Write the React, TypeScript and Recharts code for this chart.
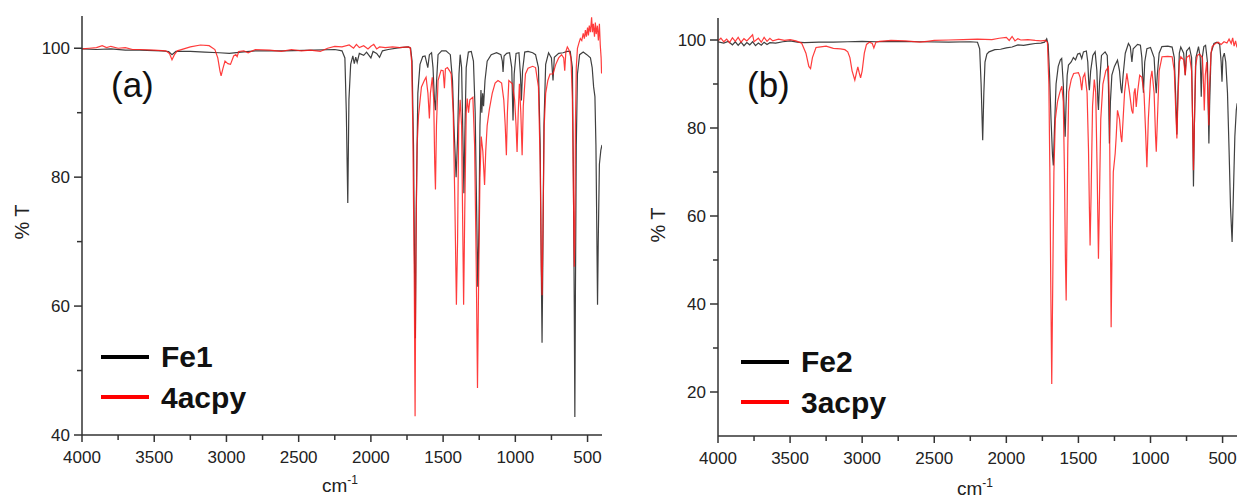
import React from 'react';
import { LineChart, Line, XAxis, YAxis, Customized } from 'recharts';

// Panel (a): Fe1 (black) and 4acpy (red) — [wavenumber cm-1, %T]
const fe1: [number, number][] = [
  [4000, 99.9], [3900, 99.8], [3800, 99.9], [3700, 99.7], [3600, 99.7], [3450, 99.6], [3400, 99.5], [3377, 99.0], [3350, 99.5],
  [3250, 99.5], [3150, 99.4], [3050, 99.3], [2980, 99.2], [2900, 99.4], [2800, 99.6], [2600, 99.6], [2400, 99.7], [2250, 99.8],
  [2200, 99.6], [2180, 98.5], [2170, 90], [2160, 76.0], [2152, 92], [2140, 97.5], [2125, 98.8], [2115, 97.6], [2105, 98.6],
  [2095, 97.8], [2080, 99.2], [2050, 98.9], [2030, 99.4], [2000, 98.5], [1985, 99.5], [1960, 99.2], [1940, 98.6], [1920, 99.6],
  [1880, 99.8], [1800, 100.1], [1740, 100.2], [1725, 100.0], [1715, 98], [1705, 85], [1697, 65], [1692, 55], [1686, 75],
  [1675, 93], [1660, 97.5], [1641, 98.7], [1625, 98.8], [1606, 97.0], [1595, 99.0], [1580, 99.3], [1570, 97], [1560, 92],
  [1553, 90.4], [1545, 95], [1535, 99.0], [1510, 99.6], [1480, 99.6], [1450, 99.0], [1435, 95], [1425, 88], [1410, 80],
  [1400, 86], [1390, 96], [1382, 99.0], [1372, 97], [1362, 85], [1356, 77.5], [1350, 86], [1340, 97], [1325, 99.4],
  [1305, 99.5], [1290, 98], [1278, 90], [1268, 75], [1260, 63], [1252, 72], [1245, 88], [1238, 93.5], [1232, 90],
  [1226, 93], [1220, 91], [1210, 95], [1195, 98], [1167, 99.0], [1130, 99.3], [1100, 99.0], [1090, 98], [1085, 96.3],
  [1078, 98.8], [1060, 99.2], [1040, 99.3], [1025, 97], [1016, 88.8], [1008, 96], [995, 99.2], [975, 99.3], [965, 96],
  [958, 91.9], [950, 96.5], [935, 99.4], [912, 99.5], [880, 99.3], [860, 99.0], [840, 97], [828, 85], [820, 65],
  [815, 54.3], [810, 66], [802, 88], [790, 97.5], [770, 99.3], [750, 98.5], [739, 95], [730, 98.6], [700, 99.2],
  [670, 99.3], [640, 99.5], [620, 99.5], [605, 97], [598, 80], [592, 60], [588, 42.8], [584, 62], [578, 85], [570, 96],
  [555, 99.0], [530, 99.4], [505, 99.0], [480, 98.5], [468, 97], [458, 94], [449, 92.5], [442, 85], [436, 72],
  [431, 60.2], [426, 70], [418, 82], [408, 84.2], [400, 85],
];

const acpy4: [number, number][] = [
  [4000, 99.9], [3950, 100.0], [3900, 100.1], [3860, 100.4], [3830, 100.1], [3800, 100.3], [3750, 100.0], [3700, 100.1],
  [3650, 99.8], [3600, 99.8], [3500, 99.7], [3420, 99.6], [3395, 99.2], [3377, 98.2], [3360, 99.0], [3340, 99.6],
  [3250, 100.2], [3180, 100.5], [3120, 100.4], [3080, 99.8], [3060, 98.5], [3045, 96.5], [3037, 95.7], [3025, 96.8],
  [3010, 98.0], [2990, 97.6], [2972, 97.5], [2950, 98.8], [2935, 99.0], [2926, 98.7], [2915, 99.5], [2880, 99.6],
  [2850, 99.3], [2800, 99.8], [2700, 99.7], [2620, 99.5], [2550, 99.8], [2480, 99.6], [2420, 99.7], [2350, 99.5],
  [2300, 100.0], [2250, 100.3], [2200, 100.2], [2150, 100.5], [2120, 100.0], [2100, 100.6], [2080, 100.1], [2050, 100.4],
  [2020, 99.9], [2000, 100.3], [1980, 100.6], [1960, 99.9], [1940, 100.2], [1900, 100.1], [1850, 100.2], [1800, 100.1],
  [1750, 100.2], [1728, 100.1], [1718, 98], [1710, 88], [1700, 65], [1694, 42.9], [1688, 70], [1680, 85], [1670, 89.6],
  [1650, 94], [1630, 95.0], [1618, 95.5], [1605, 93], [1595, 89.1], [1588, 93], [1575, 95.5], [1565, 92], [1558, 82],
  [1553, 78.1], [1546, 88], [1535, 95], [1514, 96.6], [1500, 96.5], [1491, 93.8], [1484, 96.8], [1470, 97.0], [1455, 96.5],
  [1444, 96.0], [1430, 90], [1418, 75], [1408, 60.2], [1400, 70], [1392, 88], [1382, 92], [1372, 88], [1364, 72],
  [1358, 60.2], [1350, 75], [1340, 90], [1333, 92.2], [1324, 90], [1315, 92], [1294, 92.4], [1282, 85], [1270, 65],
  [1262, 47.3], [1255, 62], [1245, 80], [1236, 86.3], [1225, 84], [1213, 78.8], [1205, 84], [1195, 88], [1180, 90.5],
  [1160, 93], [1140, 94.6], [1120, 95.0], [1095, 94.6], [1080, 92], [1070, 88], [1062, 83.4], [1055, 90], [1045, 95.0],
  [1020, 94.5], [1005, 92], [995, 88], [988, 83.9], [980, 90], [972, 94.5], [962, 90], [953, 83.4], [945, 91], [930, 96],
  [912, 96.9], [880, 97.2], [860, 97], [840, 94], [828, 82], [820, 66], [815, 61.7], [810, 70], [800, 88], [790, 93],
  [775, 95], [760, 96], [739, 96], [720, 97.5], [700, 98.5], [680, 99], [665, 98.5], [658, 96.5], [650, 99.5],
  [640, 100.2], [630, 99.8], [615, 98.5], [605, 92], [598, 78], [592, 66.1], [588, 70], [584, 88], [578, 97], [570, 100],
  [560, 100.8], [550, 101.5], [540, 101.2], [530, 102.3], [522, 101.5], [515, 102.8], [508, 101.8], [500, 103.2],
  [494, 102], [488, 103.5], [480, 102.5], [472, 104.8], [466, 102.5], [460, 103.8], [452, 101.8], [446, 104], [440, 102.2],
  [432, 103.5], [425, 101.2], [418, 103.8], [412, 100.5], [406, 98.5], [403, 96.1], [400, 97],
];

// Panel (b): Fe2 (black) and 3acpy (red)
const fe2: [number, number][] = [
  [4000, 99.6], [3960, 99.3], [3930, 99.7], [3900, 98.9], [3880, 99.6], [3860, 98.8], [3840, 99.5], [3820, 98.7],
  [3800, 99.4], [3780, 98.9], [3760, 99.6], [3740, 98.7], [3720, 99.3], [3700, 98.8], [3680, 99.5], [3660, 99.0],
  [3640, 99.4], [3600, 99.3], [3550, 99.6], [3500, 99.8], [3450, 99.5], [3400, 99.4], [3300, 99.5], [3200, 99.5],
  [3100, 99.6], [3000, 99.7], [2900, 99.6], [2800, 99.7], [2600, 99.6], [2400, 99.5], [2250, 99.6], [2200, 99.5],
  [2185, 98], [2175, 90], [2164, 77.2], [2156, 88], [2148, 95], [2135, 96.8], [2120, 97.3], [2080, 97.8], [2040, 97.9],
  [2000, 98.2], [1960, 98.4], [1920, 98.9], [1880, 98.8], [1840, 99.0], [1800, 99.2], [1760, 99.3], [1735, 99.5],
  [1720, 100.3], [1710, 99], [1700, 92], [1690, 82], [1680, 74], [1674, 71.5], [1666, 80], [1655, 90], [1640, 94],
  [1625, 95.5], [1616, 95.8], [1605, 90], [1597, 82], [1592, 78], [1586, 85], [1578, 92], [1569, 94.3], [1550, 95],
  [1535, 96], [1520, 95.5], [1505, 96.8], [1490, 97], [1477, 95.8], [1465, 97.3], [1445, 97.5], [1435, 95], [1428, 90],
  [1424, 88.6], [1415, 93], [1400, 96.5], [1384, 97.3], [1372, 93], [1365, 86], [1361, 84.1], [1354, 90], [1340, 96.5],
  [1315, 97.3], [1300, 96.5], [1292, 90], [1285, 76.5], [1278, 86], [1268, 92], [1250, 94], [1229, 95.4], [1215, 93],
  [1205, 89], [1199, 87.9], [1190, 92], [1175, 97], [1153, 99.2], [1140, 98.5], [1129, 95], [1120, 98], [1105, 98.5],
  [1090, 99], [1070, 98.8], [1060, 96], [1049, 88], [1040, 95], [1025, 98], [1000, 98.3], [975, 96], [965, 90],
  [960, 87.9], [953, 92], [940, 97], [921, 98.5], [880, 98.6], [850, 98.4], [835, 96], [824, 86], [817, 78.5], [810, 88],
  [800, 97], [790, 98.4], [770, 97], [759, 92], [750, 97.5], [730, 98.3], [715, 96], [707, 80], [702, 66.7], [696, 80],
  [685, 96], [667, 98.5], [655, 96], [648, 87.1], [641, 96], [630, 98.5], [618, 98.8], [605, 95], [598, 82], [595, 76.5],
  [590, 85], [580, 97], [560, 99.2], [539, 99.5], [520, 99.0], [510, 95], [504, 90.5], [498, 96], [488, 97], [478, 95],
  [466, 88], [455, 75], [445, 62], [434, 54.1], [425, 65], [415, 78], [405, 84], [399, 85.6],
];

const acpy3: [number, number][] = [
  [4000, 99.8], [3980, 100.4], [3960, 99.6], [3940, 100.2], [3920, 99.4], [3900, 100.5], [3880, 99.7], [3860, 100.6],
  [3840, 99.5], [3820, 100.3], [3800, 99.8], [3760, 101.2], [3750, 99.6], [3720, 100.4], [3700, 99.5], [3680, 100.6],
  [3660, 99.7], [3640, 100.4], [3620, 99.8], [3580, 100.2], [3540, 99.9], [3500, 100.1], [3460, 99.8], [3420, 99.3],
  [3390, 97], [3370, 94], [3358, 93.5], [3345, 96], [3320, 98.3], [3300, 98.4], [3250, 98.6], [3200, 98.1], [3150, 98.0],
  [3120, 97.8], [3100, 97.3], [3085, 96], [3070, 93], [3051, 90.9], [3040, 92.5], [3030, 93.9], [3020, 92.5],
  [3011, 91.4], [3000, 93], [2985, 97], [2970, 99], [2950, 99.5], [2930, 99.2], [2919, 98.2], [2905, 99.5], [2880, 99.7],
  [2800, 99.9], [2700, 99.8], [2600, 99.5], [2550, 99.7], [2500, 99.9], [2400, 100.0], [2300, 100.1], [2200, 100.2],
  [2100, 100.1], [2050, 100.4], [2000, 100.6], [1980, 99.9], [1960, 100.8], [1940, 99.8], [1920, 100.3], [1900, 100.0],
  [1850, 100.1], [1800, 99.9], [1760, 99.8], [1730, 99.9], [1715, 99.5], [1705, 90], [1698, 70], [1692, 45],
  [1685, 21.8], [1678, 45], [1670, 70], [1660, 82], [1645, 86], [1630, 88], [1615, 89.5], [1605, 86], [1597, 70],
  [1590, 50], [1585, 40.8], [1580, 55], [1574, 75], [1567, 88.2], [1550, 91], [1533, 92.4], [1500, 92.6], [1488, 91.5],
  [1477, 88.6], [1468, 91.5], [1456, 92.4], [1440, 88], [1430, 75], [1424, 62], [1419, 53.3], [1412, 65], [1402, 85],
  [1390, 91], [1380, 88], [1370, 70], [1361, 50.3], [1355, 62], [1345, 82], [1330, 90], [1310, 93], [1292, 93.9],
  [1285, 85], [1280, 65], [1273, 34.7], [1266, 55], [1258, 70], [1245, 74.2], [1238, 78], [1229, 84], [1215, 82],
  [1205, 78], [1199, 76.8], [1190, 82], [1180, 88], [1164, 92.4], [1145, 88], [1130, 84], [1122, 83.3], [1114, 88],
  [1107, 89], [1099, 84.8], [1090, 88], [1075, 92], [1060, 91.5], [1045, 88], [1035, 80], [1025, 71.1], [1015, 82],
  [1000, 91], [990, 93], [975, 88], [965, 78], [960, 74.6], [952, 82], [940, 93], [920, 96.2], [880, 96.3], [850, 96.2],
  [835, 93], [825, 84], [817, 77.6], [810, 86], [800, 95], [790, 96.2], [770, 95.5], [759, 92], [750, 96], [730, 96.5],
  [715, 93], [708, 82], [702, 70.4], [696, 80], [688, 94], [675, 96.5], [660, 96.8], [640, 96], [632, 90], [627, 84],
  [620, 92], [610, 95], [600, 86], [595, 80.6], [590, 90], [580, 97], [572, 98.5], [550, 99.2], [530, 99.5], [510, 99.0],
  [490, 99.6], [470, 99.3], [455, 100.2], [440, 99.2], [430, 100.5], [420, 98.6], [410, 99.8], [400, 98.3],
];

const xTicks = [500, 750, 1000, 1250, 1500, 1750, 2000, 2250, 2500, 2750, 3000, 3250, 3500, 3750, 4000];
const yTicksA = [40, 50, 60, 70, 80, 90, 100];
const yTicksB = [20, 30, 40, 50, 60, 70, 80, 90, 100];
const legendA = ['Fe1', '4acpy'];
const legendB = ['Fe2', '3acpy'];
const panelLabels = ['(a)', '(b)'];

const toPoints = (arr: [number, number][]) => arr.map(([wn, t]) => ({ wn, t }));

const FONT = 'Arial, "Liberation Sans", sans-serif';
const AXIS = '#333';
const TXT = '#222';
const BLACK = '#404040';
const RED = '#ff1a1a';

const XTick = (props: any) => {
  const { x, y, payload } = props;
  const major = payload.value % 500 === 0;
  return (
    <g>
      <line x1={x} x2={x} y1={y} y2={y + (major ? 7 : 5)} stroke={AXIS} strokeWidth={1.5} />
      {major && (
        <text x={x} y={y + 28} textAnchor="middle" fontSize={17} fill={TXT} fontFamily={FONT}>
          {payload.value}
        </text>
      )}
    </g>
  );
};

const YTick = (props: any) => {
  const { x, y, payload } = props;
  const major = payload.value % 20 === 0;
  return (
    <g>
      <line x1={x - (major ? 8 : 5)} x2={x} y1={y} y2={y} stroke={AXIS} strokeWidth={1.5} />
      {major && (
        <text x={x - 12} y={y + 6} textAnchor="end" fontSize={17} fill={TXT} fontFamily={FONT}>
          {payload.value}
        </text>
      )}
    </g>
  );
};

type PanelProps = {
  left: number;
  black: [number, number][];
  red: [number, number][];
  yDomain: [number, number];
  yTicks: number[];
  margin: { top: number; right: number; bottom: number; left: number };
  names: string[];
  label: string;
  labelPos: { x: number; y: number };
  legendPos: { x: number; y: number };
  yTitle: { x: number; y: number };
  xTitle: { x: number; y: number };
};

const Panel = (p: PanelProps) => {
  const overlay = () => (
    <g fontFamily={FONT}>
      <text x={p.labelPos.x} y={p.labelPos.y} fontSize={35} fill="#111">{p.label}</text>
      <line x1={p.legendPos.x} x2={p.legendPos.x + 48} y1={p.legendPos.y} y2={p.legendPos.y} stroke="#000" strokeWidth={4} />
      <text x={p.legendPos.x + 60} y={p.legendPos.y + 10} fontSize={30} fontWeight="bold" fill="#111">{p.names[0]}</text>
      <line x1={p.legendPos.x} x2={p.legendPos.x + 48} y1={p.legendPos.y + 40} y2={p.legendPos.y + 40} stroke="#ff0000" strokeWidth={4} />
      <text x={p.legendPos.x + 60} y={p.legendPos.y + 51} fontSize={30} fontWeight="bold" fill="#111">{p.names[1]}</text>
      <text
        x={p.yTitle.x}
        y={p.yTitle.y}
        fontSize={20}
        fill={TXT}
        textAnchor="middle"
        transform={`rotate(-90 ${p.yTitle.x} ${p.yTitle.y})`}
      >
        % T
      </text>
      <text x={p.xTitle.x} y={p.xTitle.y} fontSize={19} fill={TXT} textAnchor="middle">
        cm<tspan dy={-8} fontSize={12}>-1</tspan>
      </text>
    </g>
  );
  return (
    <div style={{ position: 'absolute', left: p.left, top: 0, width: 620, height: 502 }}>
      <LineChart width={620} height={502} margin={p.margin}>
        <XAxis
          type="number"
          dataKey="wn"
          domain={[400, 4000]}
          reversed
          ticks={xTicks}
          interval={0}
          tick={<XTick />}
          tickLine={false}
          tickSize={0}
          tickMargin={0}
          height={30}
          allowDataOverflow
          axisLine={{ stroke: AXIS, strokeWidth: 1.5 }}
        />
        <YAxis
          type="number"
          dataKey="t"
          domain={p.yDomain}
          ticks={p.yTicks}
          interval={0}
          tick={<YTick />}
          tickLine={false}
          tickSize={0}
          tickMargin={0}
          width={60}
          allowDataOverflow
          axisLine={{ stroke: AXIS, strokeWidth: 1.5 }}
        />
        <Line
          data={toPoints(p.black)}
          dataKey="t"
          stroke={BLACK}
          strokeWidth={1.2}
          dot={false}
          activeDot={false}
          isAnimationActive={false}
          type="linear"
        />
        <Line
          data={toPoints(p.red)}
          dataKey="t"
          stroke={RED}
          strokeWidth={1.2}
          strokeOpacity={0.85}
          dot={false}
          activeDot={false}
          isAnimationActive={false}
          type="linear"
        />
        <Customized component={overlay} />
      </LineChart>
    </div>
  );
}

export default function App() {
  return (
    <div style={{ position: 'absolute', left: 0, top: 0, width: 1240, height: 502, background: '#fff', fontFamily: FONT }}>
      <Panel
        left={0}
        black={fe1}
        red={acpy4}
        yDomain={[40, 105]}
        yTicks={yTicksA}
        margin={{ top: 16, right: 18, bottom: 37, left: 22 }}
        names={legendA}
        label={panelLabels[0]}
        labelPos={{ x: 111, y: 97 }}
        legendPos={{ x: 101, y: 357 }}
        yTitle={{ x: 29, y: 222 }}
        xTitle={{ x: 340, y: 492 }}
      />
      <Panel
        left={620}
        black={fe2}
        red={acpy3}
        yDomain={[10, 105]}
        yTicks={yTicksB}
        margin={{ top: 18, right: 3, bottom: 36, left: 38 }}
        names={legendB}
        label={panelLabels[1]}
        labelPos={{ x: 127, y: 97 }}
        legendPos={{ x: 121, y: 362 }}
        yTitle={{ x: 45, y: 225 }}
        xTitle={{ x: 355, y: 495 }}
      />
    </div>
  );
}
